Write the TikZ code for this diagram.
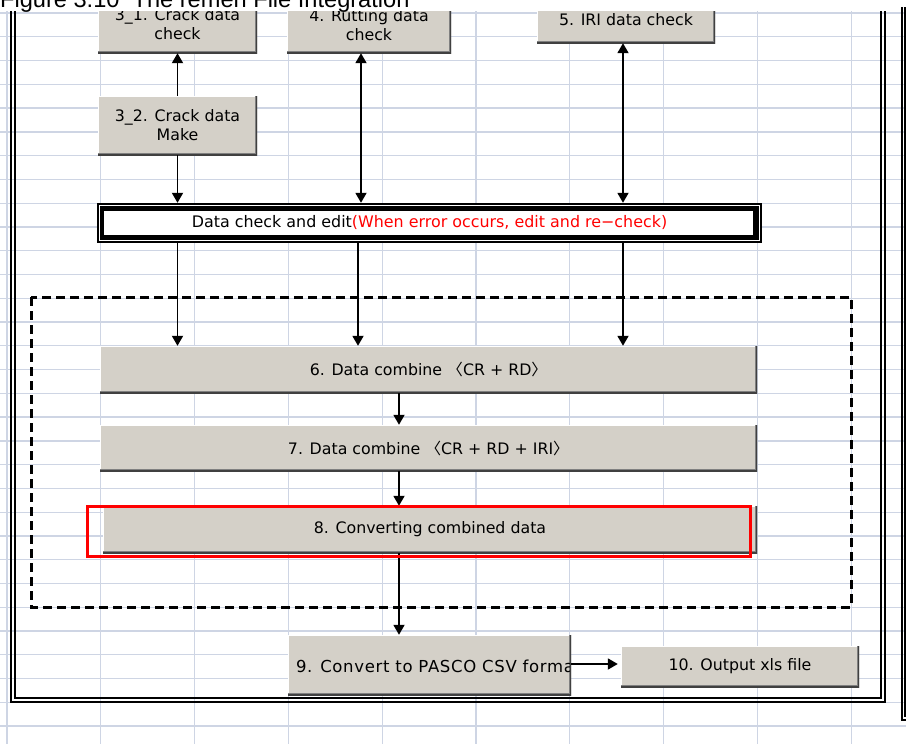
\documentclass[tikz,border=0pt]{standalone}
\usepackage{fontspec}
\setmainfont{DejaVu Sans}
\newfontfamily\cjk{Noto Sans CJK JP}
\newfontfamily\titlefont{Liberation Sans}
\newfontfamily\widefont[LetterSpace=4]{DejaVu Sans}
\usetikzlibrary{arrows.meta}

\definecolor{gridline}{RGB}{206,213,228}
\definecolor{btnface}{RGB}{212,208,200}
\definecolor{btnshade}{RGB}{128,128,128}
\definecolor{btndark}{RGB}{64,64,64}

\tikzset{
  btn/.style={fill=btnface, inner sep=0pt, align=center,
    font=\fontsize{15.8}{19}\selectfont,
    path picture={
      \draw [white, line width=2pt] (path picture bounding box.south west)
        -- (path picture bounding box.north west) -- (path picture bounding box.north east);
      \draw [btnshade, line width=4pt] (path picture bounding box.south west)
        -- (path picture bounding box.south east) -- (path picture bounding box.north east);
      \draw [btndark, line width=1.5pt] (path picture bounding box.south west)
        -- (path picture bounding box.south east) -- (path picture bounding box.north east);
    }},
  chkbox/.style={fill=black, inner sep=0pt, font=\fontsize{15.9}{17}\selectfont,
    path picture={
      \fill [white] ([shift={(7pt,-8pt)}]path picture bounding box.north west)
        rectangle ([shift={(-9pt,8pt)}]path picture bounding box.south east);
      \draw [white, line width=1pt] ([shift={(2.5pt,-2.5pt)}]path picture bounding box.north west)
        rectangle ([shift={(-2.5pt,2.5pt)}]path picture bounding box.south east);
    }},
}

\begin{document}
\begin{tikzpicture}[x=1pt, y=-1pt, >={Triangle[length=10pt,width=11pt]}]

    \useasboundingbox (0,0) rectangle (906,744);
    \clip (0,0) rectangle (906,744);

    % 1. Sheet grid, frame and the boxes below the title strip
    \begin{scope}
    \clip (0,11) rectangle (906,744);

    \foreach \gx in {0,...,9}
        \draw [gridline, line width=1.3pt] (7+93.8*\gx,0) -- (7+93.8*\gx,744);
    \foreach \gy in {0,...,30}
        \draw [gridline, line width=1.3pt] (0,13+23.77*\gy) -- (906,13+23.77*\gy);

    % 2. Double frame round the sheet
    \draw [line width=2pt] (11.3,0) -- (11.3,702) -- (884.5,702) -- (884.5,0);
    \draw [line width=2pt] (15.3,0) -- (15.3,698) -- (881,698) -- (881,0);

    % 3. Dashed group round the combine steps
    \draw [line width=3pt, dash pattern=on 9pt off 5pt] (31,297) rectangle (851,607);

    % 4. Check and make boxes at the top
    \node [btn, minimum width=159pt, minimum height=58pt] (c31) at (177.5,24) {3\_1. Crack data\\check};
    \node [btn, minimum width=159pt, minimum height=59pt] (c32) at (177.5,125.5) {3\_2. Crack data\\Make};
    \node [btn, minimum width=164pt, minimum height=56pt] (rut) at (369,25) {4. Rutting data\\check};
    \node [btn, minimum width=178pt, minimum height=46pt] (iri) at (626,20) {5. IRI data check};

    % 5. Check and edit bar
    \node [chkbox, minimum width=665pt, minimum height=40pt] (chk) at (429.5,223)
        {Data check and edit\textcolor{red}{(When error occurs, edit and re−check)}};

    % 6. Combine and convert steps
    \node [btn, minimum width=657pt, minimum height=47pt] (comb6) at (428.5,369.5)
        {6. Data combine {\cjk 〈}CR + RD{\cjk 〉}};
    \node [btn, minimum width=657pt, minimum height=46pt] (comb7) at (428.5,448)
        {7. Data combine {\cjk 〈}CR + RD + IRI{\cjk 〉}};
    \node [btn, minimum width=654pt, minimum height=47pt] (conv8) at (430,529.5) {8. Converting combined data};
    \node [btn, minimum width=283pt, minimum height=60pt] (pasco) at (429.5,665) {};
    \node [btn, minimum width=238pt, minimum height=41pt] (xls) at (740,666.5) {10. Output xls file};

    % text of step 9 runs past the right edge of its box
    \begin{scope}
        \clip (pasco.south west) rectangle ([xshift=-2pt]pasco.north east);
        \node [anchor=west, inner sep=0pt, font=\widefont\fontsize{16.5}{19}\selectfont]
            at ([xshift=8pt,yshift=-1.5pt]pasco.west) {9. Convert to PASCO CSV format};
    \end{scope}

    % 7. Arrows
    \coordinate (spine) at (399,0);
    \draw [line width=1.8pt, ->] (c32.north) -- (c31.south);
    \draw [line width=1.8pt, ->] (c32.south) -- (c32.south |- chk.north);
    \draw [line width=1.8pt, <->] ([xshift=-8pt]rut.south) -- ([xshift=-8pt]rut.south |- chk.north);
    \draw [line width=1.8pt, <->] ([xshift=-3pt]iri.south) -- ([xshift=-3pt]iri.south |- chk.north);

    \draw [line width=1.8pt, ->] (c32.south |- chk.south) -- (c32.south |- comb6.north);
    \draw [line width=1.8pt, ->] ([xshift=-11pt]rut.south |- chk.south) -- ([xshift=-11pt]rut.south |- comb6.north);
    \draw [line width=1.8pt, ->] ([xshift=-3pt]iri.south |- chk.south) -- ([xshift=-3pt]iri.south |- comb6.north);

    \draw [line width=1.8pt, ->] (spine |- comb6.south) -- (spine |- comb7.north);
    \draw [line width=1.8pt, ->] (spine |- comb7.south) -- (spine |- conv8.north);
    \draw [line width=1.8pt, ->] (spine |- conv8.south) -- (spine |- pasco.north);
    \draw [line width=1.8pt, ->, shorten >=3pt] ([yshift=1pt]pasco.east) -- ([yshift=1pt]pasco.east -| xls.west);

    % 8. Red mark on step 8
    \draw [red, line width=3pt] (87.5,506.5) rectangle (750.5,556.5);
    \end{scope}

    % 9. Edge of the next frame on the right
    \draw [line width=1.8pt] (902,7) -- (902,720) -- (906,720);
    \draw [line width=1.8pt] (905.2,7) -- (905.2,717);

    % 10. Title, cut by the top edge
    \node [anchor=base west, inner sep=0pt, font=\titlefont\fontsize{23.6}{24}\selectfont] (title) at (0,7.3)
        {Figure 3.10\ \ The remen File Integration};

\end{tikzpicture}
\end{document}
